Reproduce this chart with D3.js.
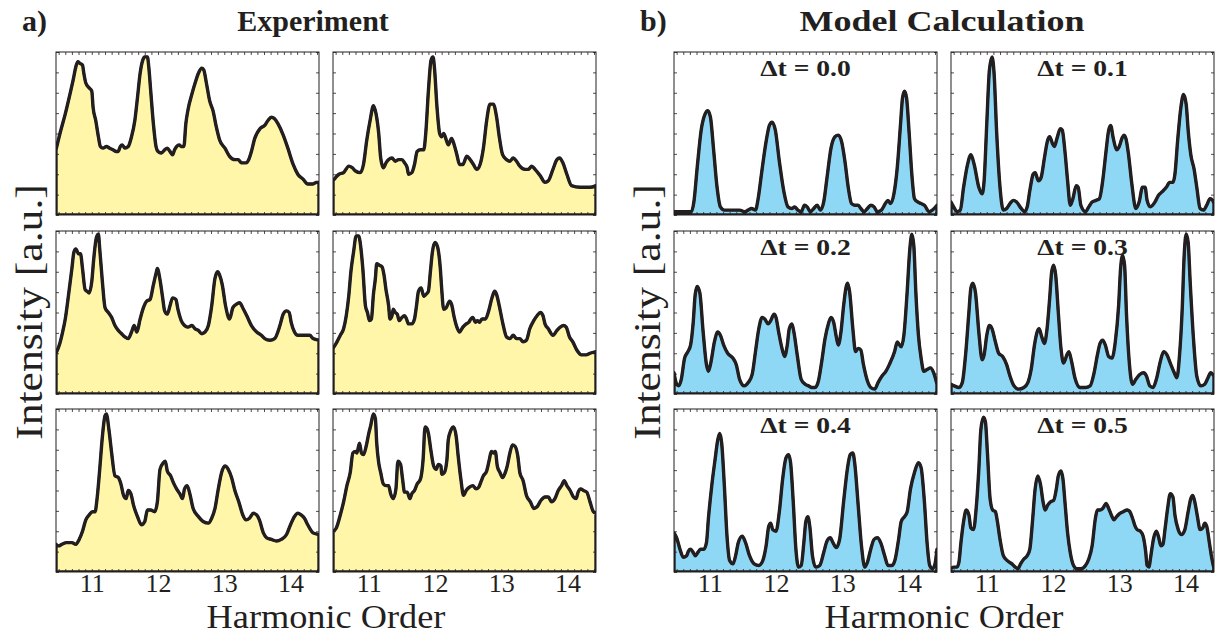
<!DOCTYPE html>
<html>
<head>
<meta charset="utf-8">
<script src="https://cdn.jsdelivr.net/npm/d3@7"></script>
<style>
  body { margin: 0; background: #fff; }
  svg { display: block; }
  text { font-family: "Liberation Serif", "Times New Roman", serif; fill: #231f20; }
</style>
</head>
<body>
<svg id="chart" width="1230" height="636"></svg>
<script>
// ---- data: harmonic order vs. intensity (a.u., % of panel full scale) ----
const harmonicDomain = [10.46, 14.43];
const harmonicTicks = [11, 12, 13, 14];
const deltaTLabels = ["\u0394t = 0.0", "\u0394t = 0.1", "\u0394t = 0.2", "\u0394t = 0.3", "\u0394t = 0.4", "\u0394t = 0.5"];

const expSpectrum1 = [[10.46,40],[10.52,50],[10.60,62],[10.67,74],[10.72,83],[10.76,91],[10.79,94],[10.82,93],[10.86,92],[10.88,87],[10.91,81],[10.96,78],[11.00,76],[11.02,66],[11.06,58],[11.10,48],[11.13,42],[11.17,41],[11.22,42],[11.27,41],[11.32,40],[11.37,39],[11.40,39],[11.43,42],[11.46,43],[11.50,41],[11.55,42],[11.60,48],[11.65,58],[11.69,72],[11.73,87],[11.77,95],[11.80,97],[11.84,97],[11.86,91],[11.89,76],[11.93,56],[11.97,42],[12.00,39],[12.05,38],[12.10,40],[12.14,41],[12.18,39],[12.22,37],[12.25,40],[12.28,42],[12.32,43],[12.35,42],[12.39,42],[12.42,56],[12.45,64],[12.51,74],[12.56,81],[12.61,87],[12.66,90],[12.69,89],[12.73,81],[12.78,70],[12.83,64],[12.88,54],[12.93,46],[13.01,41],[13.08,36],[13.16,34],[13.21,34],[13.26,32],[13.33,32],[13.37,34],[13.41,39],[13.46,47],[13.54,53],[13.61,55],[13.66,58],[13.71,60],[13.76,59],[13.81,56],[13.89,49],[13.96,41],[14.04,31],[14.11,25],[14.19,22],[14.26,19],[14.34,19],[14.39,20],[14.43,20]];

const expSpectrum2 = [[10.46,21],[10.50,23],[10.55,25],[10.62,26],[10.70,30],[10.75,29],[10.80,27],[10.87,26],[10.92,31],[10.97,46],[11.02,58],[11.07,67],[11.11,62],[11.15,50],[11.18,35],[11.22,29],[11.26,32],[11.30,34],[11.35,35],[11.40,33],[11.45,34],[11.50,34],[11.54,32],[11.58,29],[11.60,25],[11.65,26],[11.69,31],[11.73,39],[11.78,40],[11.83,40],[11.86,50],[11.90,76],[11.94,95],[11.97,97],[11.99,91],[12.03,66],[12.07,50],[12.10,48],[12.13,50],[12.17,46],[12.20,43],[12.25,47],[12.29,43],[12.33,37],[12.37,31],[12.42,31],[12.48,36],[12.53,34],[12.58,31],[12.63,28],[12.68,31],[12.73,41],[12.78,58],[12.83,68],[12.88,68],[12.93,60],[12.97,48],[13.02,37],[13.08,34],[13.13,33],[13.18,35],[13.23,33],[13.28,30],[13.36,28],[13.41,28],[13.46,30],[13.51,28],[13.59,24],[13.66,20],[13.71,21],[13.78,28],[13.84,34],[13.88,35],[13.93,32],[13.99,25],[14.06,18],[14.19,17],[14.34,17],[14.43,18]];

const expSpectrum3 = [[10.46,25],[10.51,30],[10.56,38],[10.60,46],[10.65,61],[10.70,77],[10.73,87],[10.76,89],[10.80,86],[10.83,86],[10.86,77],[10.90,64],[10.93,63],[10.96,62],[11.00,69],[11.03,83],[11.07,96],[11.10,98],[11.12,89],[11.16,69],[11.20,53],[11.25,50],[11.30,47],[11.35,42],[11.40,39],[11.45,37],[11.50,35],[11.55,34],[11.60,38],[11.64,42],[11.68,38],[11.73,46],[11.78,53],[11.83,57],[11.88,58],[11.93,67],[11.97,74],[11.99,77],[12.03,70],[12.07,59],[12.10,51],[12.14,49],[12.18,54],[12.22,59],[12.27,58],[12.30,52],[12.35,45],[12.40,42],[12.45,41],[12.51,42],[12.56,40],[12.61,39],[12.66,37],[12.71,38],[12.76,42],[12.81,54],[12.86,71],[12.90,75],[12.93,73],[12.97,67],[13.02,54],[13.08,46],[13.13,53],[13.18,55],[13.23,56],[13.29,52],[13.34,48],[13.41,42],[13.49,38],[13.56,36],[13.61,34],[13.69,33],[13.76,34],[13.84,42],[13.89,49],[13.94,51],[13.98,50],[14.01,44],[14.06,38],[14.11,36],[14.16,36],[14.24,36],[14.29,36],[14.34,34],[14.43,33]];

const expSpectrum4 = [[10.46,28],[10.52,32],[10.57,36],[10.62,40],[10.66,48],[10.70,61],[10.73,75],[10.77,87],[10.81,97],[10.85,97],[10.87,93],[10.91,77],[10.95,54],[10.98,50],[11.01,45],[11.04,46],[11.07,61],[11.10,71],[11.12,80],[11.16,79],[11.20,78],[11.23,73],[11.26,64],[11.30,54],[11.32,46],[11.35,48],[11.37,52],[11.40,50],[11.43,49],[11.46,45],[11.50,47],[11.54,48],[11.57,46],[11.60,43],[11.65,43],[11.69,46],[11.72,54],[11.75,63],[11.79,65],[11.83,60],[11.86,61],[11.90,63],[11.93,75],[11.96,87],[12.00,93],[12.04,90],[12.08,77],[12.10,65],[12.13,52],[12.17,53],[12.22,57],[12.25,55],[12.29,47],[12.33,41],[12.37,38],[12.42,41],[12.47,43],[12.51,44],[12.54,46],[12.57,47],[12.61,44],[12.64,45],[12.67,44],[12.71,46],[12.76,46],[12.81,51],[12.86,59],[12.90,63],[12.93,61],[12.97,54],[13.02,44],[13.08,35],[13.13,34],[13.18,36],[13.23,34],[13.28,34],[13.33,32],[13.38,33],[13.43,40],[13.49,45],[13.54,48],[13.59,50],[13.63,48],[13.66,43],[13.71,40],[13.78,36],[13.84,39],[13.89,41],[13.94,42],[13.98,41],[14.03,35],[14.08,32],[14.14,27],[14.21,24],[14.28,24],[14.34,25],[14.43,26]];

const expSpectrum5 = [[10.46,17],[10.50,16],[10.55,17],[10.62,18],[10.70,18],[10.76,17],[10.81,20],[10.86,25],[10.91,32],[10.96,35],[11.01,37],[11.05,37],[11.08,45],[11.12,63],[11.16,83],[11.20,96],[11.22,97],[11.26,87],[11.30,73],[11.35,59],[11.40,58],[11.44,54],[11.48,47],[11.52,45],[11.55,50],[11.59,48],[11.63,41],[11.69,34],[11.75,29],[11.80,31],[11.84,38],[11.89,38],[11.95,37],[11.99,43],[12.03,63],[12.08,67],[12.11,68],[12.14,62],[12.19,59],[12.23,55],[12.28,51],[12.33,48],[12.37,45],[12.40,51],[12.44,53],[12.48,48],[12.53,39],[12.61,34],[12.68,31],[12.76,30],[12.81,33],[12.86,39],[12.91,51],[12.96,61],[13.01,65],[13.06,63],[13.11,58],[13.16,50],[13.22,43],[13.28,35],[13.33,32],[13.38,33],[13.44,36],[13.49,35],[13.53,32],[13.59,24],[13.64,21],[13.71,20],[13.79,19],[13.86,20],[13.94,23],[14.00,29],[14.06,34],[14.11,36],[14.16,35],[14.21,33],[14.26,29],[14.34,24],[14.43,23]];

const expSpectrum6 = [[10.46,25],[10.51,27],[10.57,35],[10.62,43],[10.67,53],[10.72,61],[10.76,73],[10.80,74],[10.82,73],[10.86,79],[10.89,73],[10.92,72],[10.96,77],[11.00,85],[11.03,90],[11.07,97],[11.10,94],[11.12,79],[11.15,67],[11.18,61],[11.22,54],[11.26,53],[11.30,53],[11.33,48],[11.37,45],[11.41,51],[11.44,68],[11.48,66],[11.51,57],[11.54,49],[11.58,49],[11.62,45],[11.65,48],[11.69,50],[11.73,54],[11.78,57],[11.82,69],[11.85,89],[11.88,88],[11.90,85],[11.94,74],[11.98,65],[12.02,63],[12.05,66],[12.09,65],[12.10,60],[12.14,61],[12.18,69],[12.20,81],[12.24,87],[12.28,89],[12.32,83],[12.35,71],[12.39,57],[12.43,47],[12.47,50],[12.52,52],[12.57,53],[12.62,51],[12.66,52],[12.69,55],[12.73,59],[12.78,62],[12.82,69],[12.85,74],[12.88,73],[12.91,74],[12.94,65],[12.98,61],[13.02,58],[13.06,61],[13.09,65],[13.13,73],[13.17,78],[13.21,77],[13.25,71],[13.28,61],[13.33,56],[13.38,47],[13.44,43],[13.49,39],[13.54,40],[13.60,44],[13.66,46],[13.71,46],[13.76,43],[13.81,45],[13.86,50],[13.91,53],[13.95,56],[13.99,53],[14.04,50],[14.09,46],[14.13,45],[14.16,49],[14.20,51],[14.24,50],[14.29,49],[14.34,43],[14.39,37],[14.43,36]];

const modelDt00 = [[10.46,2],[10.72,2],[10.76,8],[10.81,29],[10.87,52],[10.93,62],[10.97,64],[11.01,60],[11.06,39],[11.11,17],[11.16,5],[11.22,3],[11.30,3],[11.37,3],[11.45,3],[11.53,2],[11.58,3],[11.63,4],[11.69,3],[11.73,10],[11.78,25],[11.85,45],[11.90,55],[11.94,57],[11.99,52],[12.05,33],[12.12,14],[12.18,5],[12.24,4],[12.28,5],[12.33,3],[12.38,2],[12.43,6],[12.47,5],[12.52,2],[12.57,4],[12.62,6],[12.67,3],[12.72,8],[12.77,23],[12.83,41],[12.89,48],[12.94,49],[12.99,45],[13.04,33],[13.09,17],[13.14,7],[13.19,6],[13.24,6],[13.28,4],[13.33,2],[13.38,4],[13.43,6],[13.48,5],[13.53,2],[13.59,3],[13.65,7],[13.69,9],[13.73,7],[13.78,13],[13.83,29],[13.88,56],[13.91,72],[13.94,76],[13.97,72],[14.01,50],[14.05,25],[14.09,10],[14.14,8],[14.19,7],[14.24,6],[14.31,2],[14.36,3],[14.43,6]];

const modelDt01 = [[10.46,8],[10.50,5],[10.55,2],[10.60,3],[10.65,17],[10.71,31],[10.76,37],[10.81,31],[10.88,17],[10.93,13],[10.96,21],[11.00,56],[11.04,89],[11.08,97],[11.11,87],[11.15,50],[11.20,17],[11.25,3],[11.30,4],[11.35,7],[11.40,9],[11.45,8],[11.52,4],[11.57,2],[11.61,5],[11.65,15],[11.70,25],[11.73,26],[11.78,21],[11.82,23],[11.87,35],[11.92,46],[11.95,48],[11.99,44],[12.02,42],[12.06,47],[12.11,53],[12.14,52],[12.18,39],[12.22,21],[12.26,6],[12.30,10],[12.35,18],[12.38,17],[12.42,6],[12.49,2],[12.54,5],[12.59,8],[12.65,9],[12.70,10],[12.75,21],[12.80,39],[12.84,52],[12.87,55],[12.91,47],[12.96,40],[13.00,42],[13.04,47],[13.07,49],[13.10,47],[13.14,37],[13.19,19],[13.25,4],[13.30,8],[13.35,17],[13.39,17],[13.42,9],[13.47,5],[13.54,8],[13.59,12],[13.64,14],[13.71,17],[13.76,20],[13.81,20],[13.84,25],[13.88,45],[13.93,66],[13.97,74],[14.01,68],[14.04,52],[14.08,37],[14.13,28],[14.17,17],[14.22,4],[14.27,3],[14.32,6],[14.37,10],[14.41,9],[14.43,7]];

const modelDt02 = [[10.46,13],[10.50,6],[10.53,5],[10.57,9],[10.62,22],[10.67,26],[10.71,30],[10.75,44],[10.78,61],[10.81,66],[10.85,62],[10.90,38],[10.95,18],[10.98,14],[11.02,20],[11.07,32],[11.12,38],[11.16,36],[11.21,30],[11.27,25],[11.35,22],[11.40,18],[11.45,9],[11.52,5],[11.58,7],[11.64,12],[11.69,26],[11.74,40],[11.79,47],[11.83,46],[11.88,43],[11.92,45],[11.97,49],[12.00,47],[12.04,38],[12.09,28],[12.13,23],[12.17,30],[12.20,40],[12.24,43],[12.27,38],[12.32,24],[12.38,9],[12.44,6],[12.49,5],[12.54,4],[12.59,4],[12.64,8],[12.69,20],[12.74,34],[12.79,43],[12.83,47],[12.87,44],[12.91,35],[12.94,30],[12.98,38],[13.02,54],[13.06,66],[13.08,68],[13.11,63],[13.16,40],[13.20,26],[13.24,28],[13.28,27],[13.32,18],[13.38,8],[13.43,4],[13.49,3],[13.54,7],[13.60,11],[13.66,14],[13.71,18],[13.79,26],[13.83,32],[13.85,31],[13.89,29],[13.93,36],[13.98,63],[14.02,89],[14.05,98],[14.08,91],[14.11,63],[14.15,36],[14.19,22],[14.23,14],[14.28,15],[14.33,16],[14.38,13],[14.43,6]];

const modelDt03 = [[10.46,6],[10.51,5],[10.58,4],[10.63,7],[10.68,24],[10.73,50],[10.76,65],[10.79,68],[10.83,62],[10.88,38],[10.93,21],[10.96,24],[11.00,36],[11.04,42],[11.08,40],[11.13,32],[11.18,25],[11.24,23],[11.30,18],[11.35,11],[11.41,5],[11.48,3],[11.56,4],[11.62,7],[11.67,15],[11.72,30],[11.76,38],[11.79,40],[11.83,35],[11.87,31],[11.91,40],[11.95,59],[11.98,75],[12.01,79],[12.04,73],[12.08,50],[12.12,28],[12.16,19],[12.21,24],[12.24,26],[12.28,20],[12.33,10],[12.41,4],[12.49,4],[12.56,5],[12.62,13],[12.67,24],[12.71,31],[12.75,33],[12.79,30],[12.84,23],[12.89,22],[12.94,32],[12.99,54],[13.02,77],[13.05,85],[13.08,79],[13.11,48],[13.15,20],[13.20,6],[13.25,9],[13.31,12],[13.37,13],[13.41,11],[13.46,5],[13.51,4],[13.56,9],[13.62,20],[13.67,26],[13.72,24],[13.77,19],[13.83,13],[13.87,10],[13.91,24],[13.95,52],[13.98,85],[14.01,98],[14.04,93],[14.07,69],[14.12,34],[14.17,11],[14.23,5],[14.29,6],[14.34,10],[14.38,13],[14.43,11]];

const modelDt04 = [[10.46,24],[10.50,21],[10.55,14],[10.60,9],[10.65,10],[10.68,13],[10.71,14],[10.75,12],[10.78,10],[10.82,12],[10.86,14],[10.91,14],[10.95,18],[10.98,33],[11.03,53],[11.08,69],[11.12,81],[11.15,85],[11.18,79],[11.22,53],[11.26,22],[11.30,7],[11.35,5],[11.39,10],[11.43,18],[11.49,22],[11.54,18],[11.60,10],[11.67,5],[11.74,4],[11.80,7],[11.85,16],[11.89,28],[11.92,30],[11.95,26],[12.00,25],[12.05,37],[12.10,57],[12.15,70],[12.19,72],[12.22,67],[12.26,43],[12.30,14],[12.34,3],[12.38,4],[12.42,18],[12.45,31],[12.48,34],[12.51,28],[12.55,10],[12.60,3],[12.66,4],[12.72,12],[12.77,19],[12.82,21],[12.86,18],[12.91,15],[12.96,20],[13.02,43],[13.08,64],[13.12,72],[13.16,73],[13.19,66],[13.24,41],[13.29,16],[13.34,3],[13.38,6],[13.43,14],[13.48,20],[13.53,21],[13.58,18],[13.64,10],[13.69,4],[13.75,4],[13.80,8],[13.85,20],[13.89,31],[13.94,34],[13.98,37],[14.03,51],[14.09,61],[14.15,67],[14.19,64],[14.24,43],[14.28,18],[14.32,4],[14.36,2],[14.40,5],[14.43,14]];

const modelDt05 = [[10.46,2],[10.50,3],[10.55,3],[10.58,6],[10.61,18],[10.65,31],[10.69,38],[10.73,35],[10.76,27],[10.80,26],[10.84,39],[10.88,63],[10.91,87],[10.95,95],[10.98,92],[11.01,73],[11.05,45],[11.09,38],[11.13,37],[11.16,31],[11.20,20],[11.25,10],[11.31,7],[11.38,5],[11.43,3],[11.47,2],[11.51,5],[11.56,8],[11.61,10],[11.65,14],[11.69,31],[11.73,51],[11.77,59],[11.81,54],[11.85,43],[11.88,38],[11.92,41],[11.96,43],[12.01,44],[12.05,51],[12.08,59],[12.12,62],[12.15,57],[12.18,43],[12.22,24],[12.26,12],[12.31,4],[12.36,2],[12.42,2],[12.49,4],[12.54,8],[12.59,16],[12.64,33],[12.67,38],[12.71,38],[12.75,39],[12.80,42],[12.84,39],[12.88,35],[12.92,32],[12.96,34],[13.01,36],[13.06,37],[13.12,38],[13.16,37],[13.20,33],[13.24,28],[13.27,26],[13.32,25],[13.36,22],[13.40,12],[13.42,4],[13.45,3],[13.47,8],[13.52,21],[13.56,25],[13.59,22],[13.63,16],[13.66,17],[13.69,26],[13.73,39],[13.77,48],[13.81,46],[13.84,35],[13.89,26],[13.94,23],[13.99,26],[14.04,37],[14.08,45],[14.11,47],[14.14,43],[14.18,34],[14.22,26],[14.26,27],[14.29,30],[14.32,28],[14.36,18],[14.39,10],[14.43,2]];

const experimentSeries = [expSpectrum1, expSpectrum2, expSpectrum3, expSpectrum4, expSpectrum5, expSpectrum6];
const modelSeries = [modelDt00, modelDt01, modelDt02, modelDt03, modelDt04, modelDt05];

// ---- layout ----
const svg = d3.select("#chart");
const panelW = 263, panelH = 163;
const rowTops = [52, 231, 409];
const blocks = [
  { cols: [56, 333], series: experimentSeries, fill: "#fff6aa", labels: null,
    letter: "a)", letterX: 22, title: "Experiment", titleX: 313, titleStretch: 1, yLabelX: 42 },
  { cols: [674, 951], series: modelSeries, fill: "#8ed8f6", labels: deltaTLabels,
    letter: "b)", letterX: 640, title: "Model Calculation", titleX: 942, titleStretch: 1.2, yLabelX: 660 }
];

const ink = "#231f20";
let clipId = 0;

blocks.forEach(block => {
  // block headings
  svg.append("text").attr("x", block.letterX).attr("y", 31)
    .style("font-size", "30px").style("font-weight", "bold").text(block.letter);
  svg.append("text")
    .attr("transform", `translate(${block.titleX},31) scale(${block.titleStretch},1)`)
    .attr("text-anchor", "middle")
    .style("font-size", "30px").style("font-weight", "bold").text(block.title);

  // shared axis titles
  const midY = (rowTops[0] + rowTops[2] + panelH) / 2;
  svg.append("text")
    .attr("transform", `translate(${block.yLabelX},${midY}) rotate(-90) scale(1.18,1)`)
    .attr("text-anchor", "middle").style("font-size", "37px").text("Intensity [a.u.]");
  const midX = (block.cols[0] + block.cols[1] + panelW) / 2;
  svg.append("text")
    .attr("transform", `translate(${midX},628) scale(1.1,1)`)
    .attr("text-anchor", "middle")
    .style("font-size", "33px").text("Harmonic Order");

  block.series.forEach((data, i) => {
    const row = Math.floor(i / 2), col = i % 2;
    const x0 = block.cols[col], y0 = rowTops[row];
    const x = d3.scaleLinear().domain(harmonicDomain).range([x0, x0 + panelW]);
    const y = d3.scaleLinear().domain([0, 100]).range([y0 + panelH, y0]);

    const id = "clip" + (clipId++);
    svg.append("clipPath").attr("id", id).append("rect")
      .attr("x", x0).attr("y", y0).attr("width", panelW).attr("height", panelH);

    const g = svg.append("g");
    const area = d3.area().curve(d3.curveMonotoneX)
      .x(d => x(d[0])).y0(y(0)).y1(d => y(d[1]));
    const line = d3.line().curve(d3.curveMonotoneX)
      .x(d => x(d[0])).y(d => y(d[1]));

    g.append("path").datum(data).attr("d", area)
      .attr("clip-path", `url(#${id})`)
      .attr("fill", block.fill).attr("stroke", ink).attr("stroke-width", 3.4)
      .attr("stroke-linejoin", "round");
    g.append("path").datum(data).attr("d", line)
      .attr("clip-path", `url(#${id})`)
      .attr("fill", "none").attr("stroke", ink).attr("stroke-width", 2.4)
      .attr("stroke-linejoin", "round");

    // inward minor ticks on all four sides
    const minor = d3.range(10.5, 14.45, 0.1).map(v => +v.toFixed(2));
    const axisStyle = sel => {
      sel.select(".domain").remove();
      sel.selectAll("line").attr("stroke", ink).attr("stroke-width", 0.8);
    };
    g.append("g").attr("transform", `translate(0,${y0 + panelH})`)
      .call(d3.axisBottom(x).tickValues(minor).tickSize(-3).tickFormat(""))
      .call(axisStyle);
    g.append("g").attr("transform", `translate(0,${y0})`)
      .call(d3.axisTop(x).tickValues(minor).tickSize(-3).tickFormat(""))
      .call(axisStyle);
    const yTicks = d3.range(0, 100.1, 12.5);
    g.append("g").attr("transform", `translate(${x0},0)`)
      .call(d3.axisLeft(y).tickValues(yTicks).tickSize(-3).tickFormat(""))
      .call(axisStyle);
    g.append("g").attr("transform", `translate(${x0 + panelW},0)`)
      .call(d3.axisRight(y).tickValues(yTicks).tickSize(-3).tickFormat(""))
      .call(axisStyle);

    // frame
    g.append("rect").attr("x", x0).attr("y", y0).attr("width", panelW).attr("height", panelH)
      .attr("fill", "none").attr("stroke", ink).attr("stroke-width", 1);

    // harmonic order labels under the bottom row
    if (row === 2) {
      const ax = g.append("g").attr("transform", `translate(0,${y0 + panelH})`)
        .call(d3.axisBottom(x).tickValues(harmonicTicks).tickSize(0).tickPadding(2)
          .tickFormat(d3.format("d")));
      ax.select(".domain").remove();
      ax.selectAll("text").style("font-size", "26px")
        .style("font-family", "'Liberation Serif', serif").attr("fill", ink);
    }

    // time-delay label
    if (block.labels) {
      g.append("text")
        .attr("transform", `translate(${x0 + panelW / 2},${y0 + 24}) scale(1.15,1)`)
        .attr("text-anchor", "middle").style("font-size", "24px").style("font-weight", "bold")
        .text(block.labels[i]);
    }
  });
});
</script>
</body>
</html>
